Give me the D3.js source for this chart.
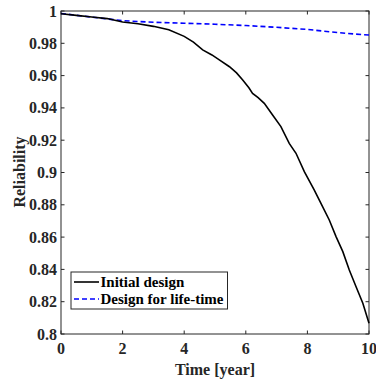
<!DOCTYPE html>
<html><head><meta charset="utf-8">
<script src="https://cdn.jsdelivr.net/npm/d3@7"></script>
<style>body{margin:0;background:#fff}svg{display:block}</style>
</head><body><svg id="c" width="376" height="381"></svg>
<script>
const initialT = [0, 0.5, 1, 1.5, 2, 2.5, 3, 3.5, 4, 4.3, 4.6, 4.9, 5.14, 5.47, 5.7, 5.9, 6.1, 6.22, 6.4, 6.6, 6.87, 7.14, 7.41, 7.63, 7.9, 8.22, 8.44, 8.71, 8.93, 9.15, 9.36, 9.58, 9.8, 10];
const initialR = [0.9983, 0.9973, 0.9963, 0.9953, 0.9932, 0.9921, 0.9905, 0.9884, 0.9843, 0.9807, 0.9759, 0.9728, 0.9697, 0.9655, 0.9617, 0.9573, 0.9525, 0.949, 0.9464, 0.9428, 0.9356, 0.9284, 0.918, 0.9119, 0.9005, 0.8892, 0.8809, 0.8706, 0.8603, 0.851, 0.8396, 0.8293, 0.819, 0.8066];
const lifeT = [0, 1, 2, 3, 4, 5, 6, 7, 8, 8.5, 9, 9.5, 10];
const lifeR = [0.9985, 0.9962, 0.994, 0.993, 0.9924, 0.9918, 0.991, 0.9899, 0.9886, 0.9876, 0.9866, 0.9858, 0.9851];
const xTicks = [0, 2, 4, 6, 8, 10];
const yTicks = [0.8, 0.82, 0.84, 0.86, 0.88, 0.9, 0.92, 0.94, 0.96, 0.98, 1];
const seriesNames = ["Initial design", "Design for life-time"];

const FONT = "'Liberation Serif', 'Times New Roman', Times, 'DejaVu Serif', serif";
const svg = d3.select("#c").attr("font-family", FONT).attr("font-weight", "bold");
const L = 61, R = 369, T = 11, B = 334;
const x = d3.scaleLinear().domain([0, 10]).range([L, R]);
const y = d3.scaleLinear().domain([0.8, 1]).range([B, T]);

const g = svg.append("g");
g.append("rect").attr("x", L).attr("y", T).attr("width", R - L).attr("height", B - T)
  .attr("fill", "none").attr("stroke", "#262626").attr("stroke-width", 1);
const tl = 3.5;
xTicks.forEach(t => {
  g.append("line").attr("x1", x(t)).attr("x2", x(t)).attr("y1", B).attr("y2", B - tl).attr("stroke", "#262626");
  g.append("line").attr("x1", x(t)).attr("x2", x(t)).attr("y1", T).attr("y2", T + tl).attr("stroke", "#262626");
  g.append("text").attr("x", x(t)).attr("y", 354).attr("text-anchor", "middle").attr("font-size", 16)
    .attr("font-family", FONT).attr("font-weight", "bold").attr("fill", "#262626").text(String(t));
});
yTicks.forEach(t => {
  g.append("line").attr("x1", L).attr("x2", L + tl).attr("y1", y(t)).attr("y2", y(t)).attr("stroke", "#262626");
  g.append("line").attr("x1", R).attr("x2", R - tl).attr("y1", y(t)).attr("y2", y(t)).attr("stroke", "#262626");
  g.append("text").attr("x", 57).attr("y", y(t) + 5.5).attr("text-anchor", "end").attr("font-size", 16)
    .attr("font-family", FONT).attr("font-weight", "bold").attr("fill", "#262626")
    .text((+t.toFixed(2)).toString());
});
g.append("text").attr("x", 215).attr("y", 375).attr("text-anchor", "middle").attr("font-size", 16)
  .attr("font-family", FONT).attr("font-weight", "bold").attr("fill", "#262626").text("Time [year]");
g.append("text").attr("transform", "translate(25,172) rotate(-90)").attr("text-anchor", "middle").attr("font-size", 16)
  .attr("font-family", FONT).attr("font-weight", "bold").attr("fill", "#262626").text("Reliability");

const line = d3.line().x(d => x(d[0])).y(d => y(d[1]));
g.append("path").datum(lifeT.map((t, i) => [t, lifeR[i]])).attr("d", line)
  .attr("fill", "none").attr("stroke", "#0000ff").attr("stroke-width", 1.6).attr("stroke-dasharray", "5,3");
g.append("path").datum(initialT.map((t, i) => [t, initialR[i]])).attr("d", line)
  .attr("fill", "none").attr("stroke", "#000").attr("stroke-width", 1.6);

const lg = g.append("g");
lg.append("rect").attr("x", 71).attr("y", 272).attr("width", 156.5).attr("height", 37)
  .attr("fill", "#fff").attr("stroke", "#262626").attr("stroke-width", 1);
const styles = [{c: "#000", d: null}, {c: "#0000ff", d: "5,3"}];
seriesNames.forEach((n, i) => {
  const yy = 282 + i * 17;
  lg.append("line").attr("x1", 74).attr("x2", 99).attr("y1", yy).attr("y2", yy)
    .attr("stroke", styles[i].c).attr("stroke-width", 1.6).attr("stroke-dasharray", styles[i].d);
  lg.append("text").attr("x", 100.5).attr("y", yy + 5).attr("font-size", 15)
    .attr("font-family", FONT).attr("font-weight", "bold").attr("fill", "#000").text(n);
});
</script></body></html>
